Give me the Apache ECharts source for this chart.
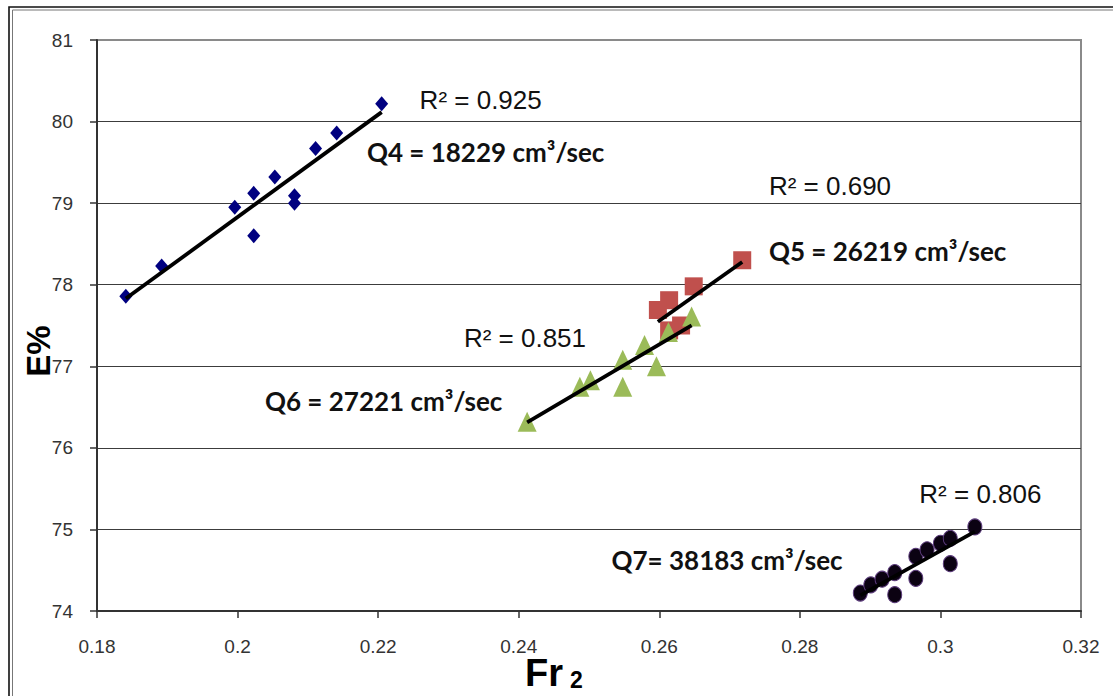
<!DOCTYPE html>
<html>
<head>
<meta charset="utf-8">
<script src="https://cdn.jsdelivr.net/npm/echarts@6/dist/echarts.min.js"></script>
<style>
html,body{margin:0;padding:0;background:#fff;}
#c{width:1113px;height:696px;}
</style>
</head>
<body>
<div id="c"></div>
<script>
// ---- data ----
const q4X = [0.1841, 0.1892, 0.1996, 0.2023, 0.2023, 0.2053, 0.2081, 0.2081, 0.2111, 0.2141, 0.2205];
const q4Y = [77.86, 78.23, 78.95, 79.12, 78.60, 79.32, 79.09, 79.00, 79.67, 79.86, 80.22];
const q5X = [0.2718, 0.2649, 0.2614, 0.2598, 0.2631, 0.2614];
const q5Y = [78.30, 77.98, 77.81, 77.69, 77.50, 77.44];
const q6X = [0.2412, 0.2487, 0.2502, 0.2548, 0.2548, 0.2579, 0.2596, 0.2613, 0.2646];
const q6Y = [76.32, 76.75, 76.83, 77.08, 76.75, 77.26, 77.00, 77.42, 77.61];
const q7X = [0.2886, 0.2901, 0.2917, 0.2935, 0.2935, 0.2965, 0.2965, 0.2981, 0.3000, 0.3014, 0.3014, 0.3049];
const q7Y = [74.22, 74.32, 74.39, 74.47, 74.20, 74.67, 74.40, 74.75, 74.83, 74.89, 74.58, 75.03];

const xTicks = [0.18, 0.32, 0.02];   // min, max, interval
const yTicks = [74, 81, 1];

// annotation texts and their anchor (left-middle) in data coordinates
const rTexts = ['R² = 0.925', 'R² = 0.690', 'R² = 0.851', 'R² = 0.806'];
const rAnchors = [[0.2259, 80.26], [0.2756, 79.21], [0.2322, 77.35], [0.2970, 75.43]];
const qTexts = ['Q4 = 18229 cm³/sec', 'Q5 = 26219 cm³/sec', 'Q6 = 27221 cm³/sec', 'Q7= 38183 cm³/sec'];
const qAnchors = [[0.2184, 79.63], [0.2756, 78.41], [0.2039, 76.57], [0.2532, 74.63]];

function pairs(xs, ys) { return xs.map((x, i) => [x, ys[i]]); }
function trend(xs, ys) {
  const n = xs.length;
  const mx = xs.reduce((a, b) => a + b, 0) / n;
  const my = ys.reduce((a, b) => a + b, 0) / n;
  let sxy = 0, sxx = 0;
  for (let i = 0; i < n; i++) { sxy += (xs[i] - mx) * (ys[i] - my); sxx += (xs[i] - mx) ** 2; }
  const b = sxy / sxx, a = my - b * mx;
  const x0 = Math.min(...xs), x1 = Math.max(...xs);
  return [[x0, a + b * x0], [x1, a + b * x1]];
}

const chart = echarts.init(document.getElementById('c'), null, { renderer: 'svg' });

function scatter(name, xs, ys, symbol, size, color, border) {
  return {
    name, type: 'scatter', data: pairs(xs, ys), symbol, symbolSize: size,
    itemStyle: { color, borderColor: border || color, borderWidth: border ? 1 : 0, opacity: 1 },
    z: 3, silent: true
  };
}
function tline(xs, ys) {
  return {
    type: 'line', data: trend(xs, ys), showSymbol: false, symbol: 'none',
    lineStyle: { color: '#000', width: 3.8 }, z: 5, silent: true
  };
}

const option = {
  animation: false,
  backgroundColor: '#fff',
  grid: { left: 97, right: 32, top: 40, bottom: 85, show: true, borderColor: '#8a8a8a', borderWidth: 2, backgroundColor: 'transparent' },
  xAxis: {
    type: 'value', min: xTicks[0], max: xTicks[1], interval: xTicks[2],
    axisLine: { show: true, onZero: false, lineStyle: { color: '#333', width: 2 } },
    axisTick: { show: true, length: 7, lineStyle: { color: '#333', width: 1.5 } },
    axisLabel: { color: '#333', fontFamily: 'Liberation Sans', fontSize: 19, margin: 26 },
    splitLine: { show: false }
  },
  yAxis: {
    type: 'value', min: yTicks[0], max: yTicks[1], interval: yTicks[2],
    axisLine: { show: true, onZero: false, lineStyle: { color: '#333', width: 2 } },
    axisTick: { show: true, length: 7, lineStyle: { color: '#333', width: 1.5 } },
    axisLabel: { color: '#333', fontFamily: 'Liberation Sans', fontSize: 19, margin: 24 },
    splitLine: { show: true, showMaxLine: false, showMinLine: false, lineStyle: { color: '#3c3c3c', width: 1.2 } }
  },
  series: [
    scatter('Q4', q4X, q4Y, 'diamond', [13, 15], '#000080'),
    scatter('Q5', q5X, q5Y, 'rect', [18, 18], '#C0504D'),
    scatter('Q6', q6X, q6Y, 'triangle', [19, 20], '#9BBB59'),
    scatter('Q7', q7X, q7Y, 'circle', [14, 16], '#0b0212', '#5a3a7a'),
    tline(q4X, q4Y), tline(q5X, q5Y), tline(q6X, q6Y), tline(q7X, q7Y)
  ]
};
chart.setOption(option);

const graphics = [
  { type: 'rect', shape: { x: 9, y: 7, width: 1300, height: 900 }, style: { fill: 'none', stroke: '#111', lineWidth: 1.6 }, silent: true, z: 100 },
  { type: 'rect', shape: { x: 12.5, y: 10, width: 1300, height: 900 }, style: { fill: 'none', stroke: '#777', lineWidth: 1 }, silent: true, z: 100 },
  { type: 'text', x: 38, y: 351, rotation: Math.PI / 2, style: { text: 'E%', font: 'bold 33px "Liberation Sans"', fill: '#000', textAlign: 'center', textVerticalAlign: 'middle' }, z: 100 },
  { type: 'text', style: { x: 525, y: 673, text: 'Fr', font: 'bold 38px "Liberation Sans"', fill: '#000', textAlign: 'left', textVerticalAlign: 'middle' }, z: 100 },
  { type: 'text', style: { x: 570, y: 680, text: '2', font: 'bold 23px "Liberation Sans"', fill: '#000', textAlign: 'left', textVerticalAlign: 'middle' }, z: 100 }
];
rTexts.forEach((t, i) => {
  const p = chart.convertToPixel({ gridIndex: 0 }, rAnchors[i]);
  graphics.push({ type: 'text', style: { x: p[0], y: p[1], text: t, font: '26px "Liberation Sans"', fill: '#111', textAlign: 'left', textVerticalAlign: 'middle' }, z: 100 });
});
qTexts.forEach((t, i) => {
  const p = chart.convertToPixel({ gridIndex: 0 }, qAnchors[i]);
  graphics.push({ type: 'text', style: { x: p[0], y: p[1], text: t, font: 'bold 26px Lato', fill: '#111', textAlign: 'left', textVerticalAlign: 'middle' }, z: 100 });
});
chart.setOption({ graphic: graphics });
</script>
</body>
</html>
